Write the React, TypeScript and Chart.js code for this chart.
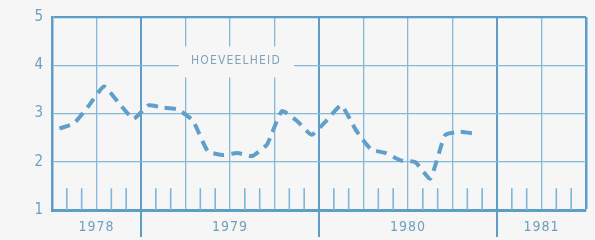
import React, { useEffect, useRef } from "react";
import { Chart, registerables } from "chart.js";

Chart.register(...registerables);

// months counted from 1 July 1978
const monthPositions = [0.5, 1.5, 2.5, 3.5, 4.5, 5.5, 6.5, 7.5, 8.5, 9.5, 10.5, 11.5, 12.5, 13.5, 14.5, 15.5, 16.5, 17.5, 18.5, 19.5, 20.5, 21.5, 22.5, 23.5, 24.5, 25.5, 26.5, 27.5, 28.5];
const quantity = [2.69, 2.8, 3.17, 3.56, 3.22, 2.89, 3.17, 3.12, 3.08, 2.85, 2.22, 2.14, 2.18, 2.12, 2.36, 3.05, 2.85, 2.56, 2.85, 3.17, 2.65, 2.26, 2.18, 2.03, 1.99, 1.65, 2.55, 2.62, 2.58];

const quarterTicks = [0, 3, 6, 9, 12, 15, 18, 21, 24, 27, 30, 33, 36];
const monthTicks = [1, 2, 4, 5, 7, 8, 10, 11, 13, 14, 16, 17, 19, 20, 22, 23, 25, 26, 28, 29, 31, 32, 34, 35];
const yearBoundaries = [6, 18, 30];
const yearLabelPositions = [3, 12, 24, 33];
const yearLabels = ["1978", "1979", "1980", "1981"];
const yTicks = [1, 2, 3, 4, 5];
const seriesLabel = "HOEVEELHEID";

const BG = "#f5f6f5";
const FRAME = "#5e9dc8";
const GRID = "#86b8da";
const TICK = "#7fb5d8";
const LINE = "#5f9fcb";
const TEXT = "#6f9fc2";

export default function App() {
  const ref = useRef<HTMLCanvasElement | null>(null);
  useEffect(() => {
    if (!ref.current) return;
    const decor = {
      id: "decor",
      beforeDraw(chart: any) {
        const ctx = chart.ctx;
        ctx.save();
        ctx.fillStyle = BG;
        ctx.fillRect(0, 0, chart.width, chart.height);
        ctx.restore();
        (ctx as any).letterSpacing = "1px";
      },
      beforeDatasetsDraw(chart: any) {
        const ctx = chart.ctx;
        const xs = chart.scales.x;
        const ys = chart.scales.y;
        const bottom = chart.chartArea.bottom;
        ctx.save();
        // monthly short ticks
        ctx.strokeStyle = TICK;
        ctx.lineWidth = 1.6;
        const top = ys.getPixelForValue(1.45);
        monthTicks.forEach((m) => {
          const x = xs.getPixelForValue(m);
          ctx.beginPath();
          ctx.moveTo(x, top);
          ctx.lineTo(x, bottom);
          ctx.stroke();
        });
        // year boundary extensions below axis
        ctx.strokeStyle = FRAME;
        ctx.lineWidth = 2;
        yearBoundaries.forEach((m) => {
          const x = xs.getPixelForValue(m);
          ctx.beginPath();
          ctx.moveTo(x, bottom);
          ctx.lineTo(x, bottom + 27);
          ctx.stroke();
        });
        // label box
        const cx = xs.getPixelForValue(12.4);
        const cy = ys.getPixelForValue(4.1);
        ctx.fillStyle = BG;
        ctx.fillRect(cx - 57, cy - 14, 115, 31);
        ctx.fillStyle = "#7fa3bd";
        ctx.font = "12px 'DejaVu Sans Condensed', 'DejaVu Sans'";
        (ctx as any).letterSpacing = "1.2px";
        ctx.textAlign = "center";
        ctx.textBaseline = "middle";
        ctx.fillText(seriesLabel, cx, cy);
        ctx.restore();
      },
    };
    const chart = new Chart(ref.current, {
      type: "line",
      data: {
        datasets: [
          {
            label: seriesLabel,
            data: monthPositions.map((m, i) => ({ x: m, y: quantity[i] })),
            borderColor: LINE,
            borderWidth: 4,
            borderDash: [11, 7],
            borderCapStyle: "butt",
            pointRadius: 0,
            tension: 0.15,
            fill: false,
          },
        ],
      },
      options: {
        animation: false,
        responsive: false,
        layout: { padding: { top: 13, right: 8, left: 0, bottom: 0 } },
        plugins: { legend: { display: false }, tooltip: { enabled: false } },
        scales: {
          x: {
            type: "linear",
            min: 0,
            max: 36,
            afterBuildTicks(axis: any) {
              axis.ticks = quarterTicks.map((v) => ({ value: v }));
            },
            afterFit(axis: any) {
              axis.height = 30;
            },
            grid: {
              drawTicks: false,
              color: (c: any) => {
                const v = c.tick ? c.tick.value : 0;
                return yearBoundaries.includes(v) || v === 36 ? FRAME : GRID;
              },
              lineWidth: (c: any) => {
                const v = c.tick ? c.tick.value : 0;
                if (v === 36) return 2.5;
                return yearBoundaries.includes(v) ? 2 : 1.3;
              },
            },
            border: { display: true, color: FRAME, width: 3 },
            ticks: {
              autoSkip: false,
              maxRotation: 0,
              padding: 9,
              color: TEXT,
              font: { family: "'DejaVu Sans Condensed', 'DejaVu Sans'", size: 14 },
              callback: (v: any) => {
                const i = yearLabelPositions.indexOf(Number(v));
                return i >= 0 ? yearLabels[i] : "";
              },
            },
          },
          y: {
            min: 1,
            max: 5,
            afterBuildTicks(axis: any) {
              axis.ticks = yTicks.map((v) => ({ value: v }));
            },
            afterFit(axis: any) {
              axis.width = 52;
            },
            grid: {
              drawTicks: false,
              color: (c: any) => (c.tick && c.tick.value === 5 ? FRAME : GRID),
              lineWidth: (c: any) => (c.tick && c.tick.value === 5 ? 2.2 : 1.3),
            },
            border: { display: true, color: FRAME, width: 2.5 },
            ticks: {
              padding: 8,
              color: TEXT,
              font: { family: "'DejaVu Sans Condensed', 'DejaVu Sans'", size: 15 },
              callback: (v: any) => String(v),
            },
          },
        },
      },
      plugins: [decor],
    });
    return () => chart.destroy();
  }, []);
  return (
    <div style={{ position: "absolute", left: 0, top: 0, width: 595, height: 240 }}>
      <canvas ref={ref} width={595} height={240} style={{ width: 595, height: 240 }} />
    </div>
  );
}
